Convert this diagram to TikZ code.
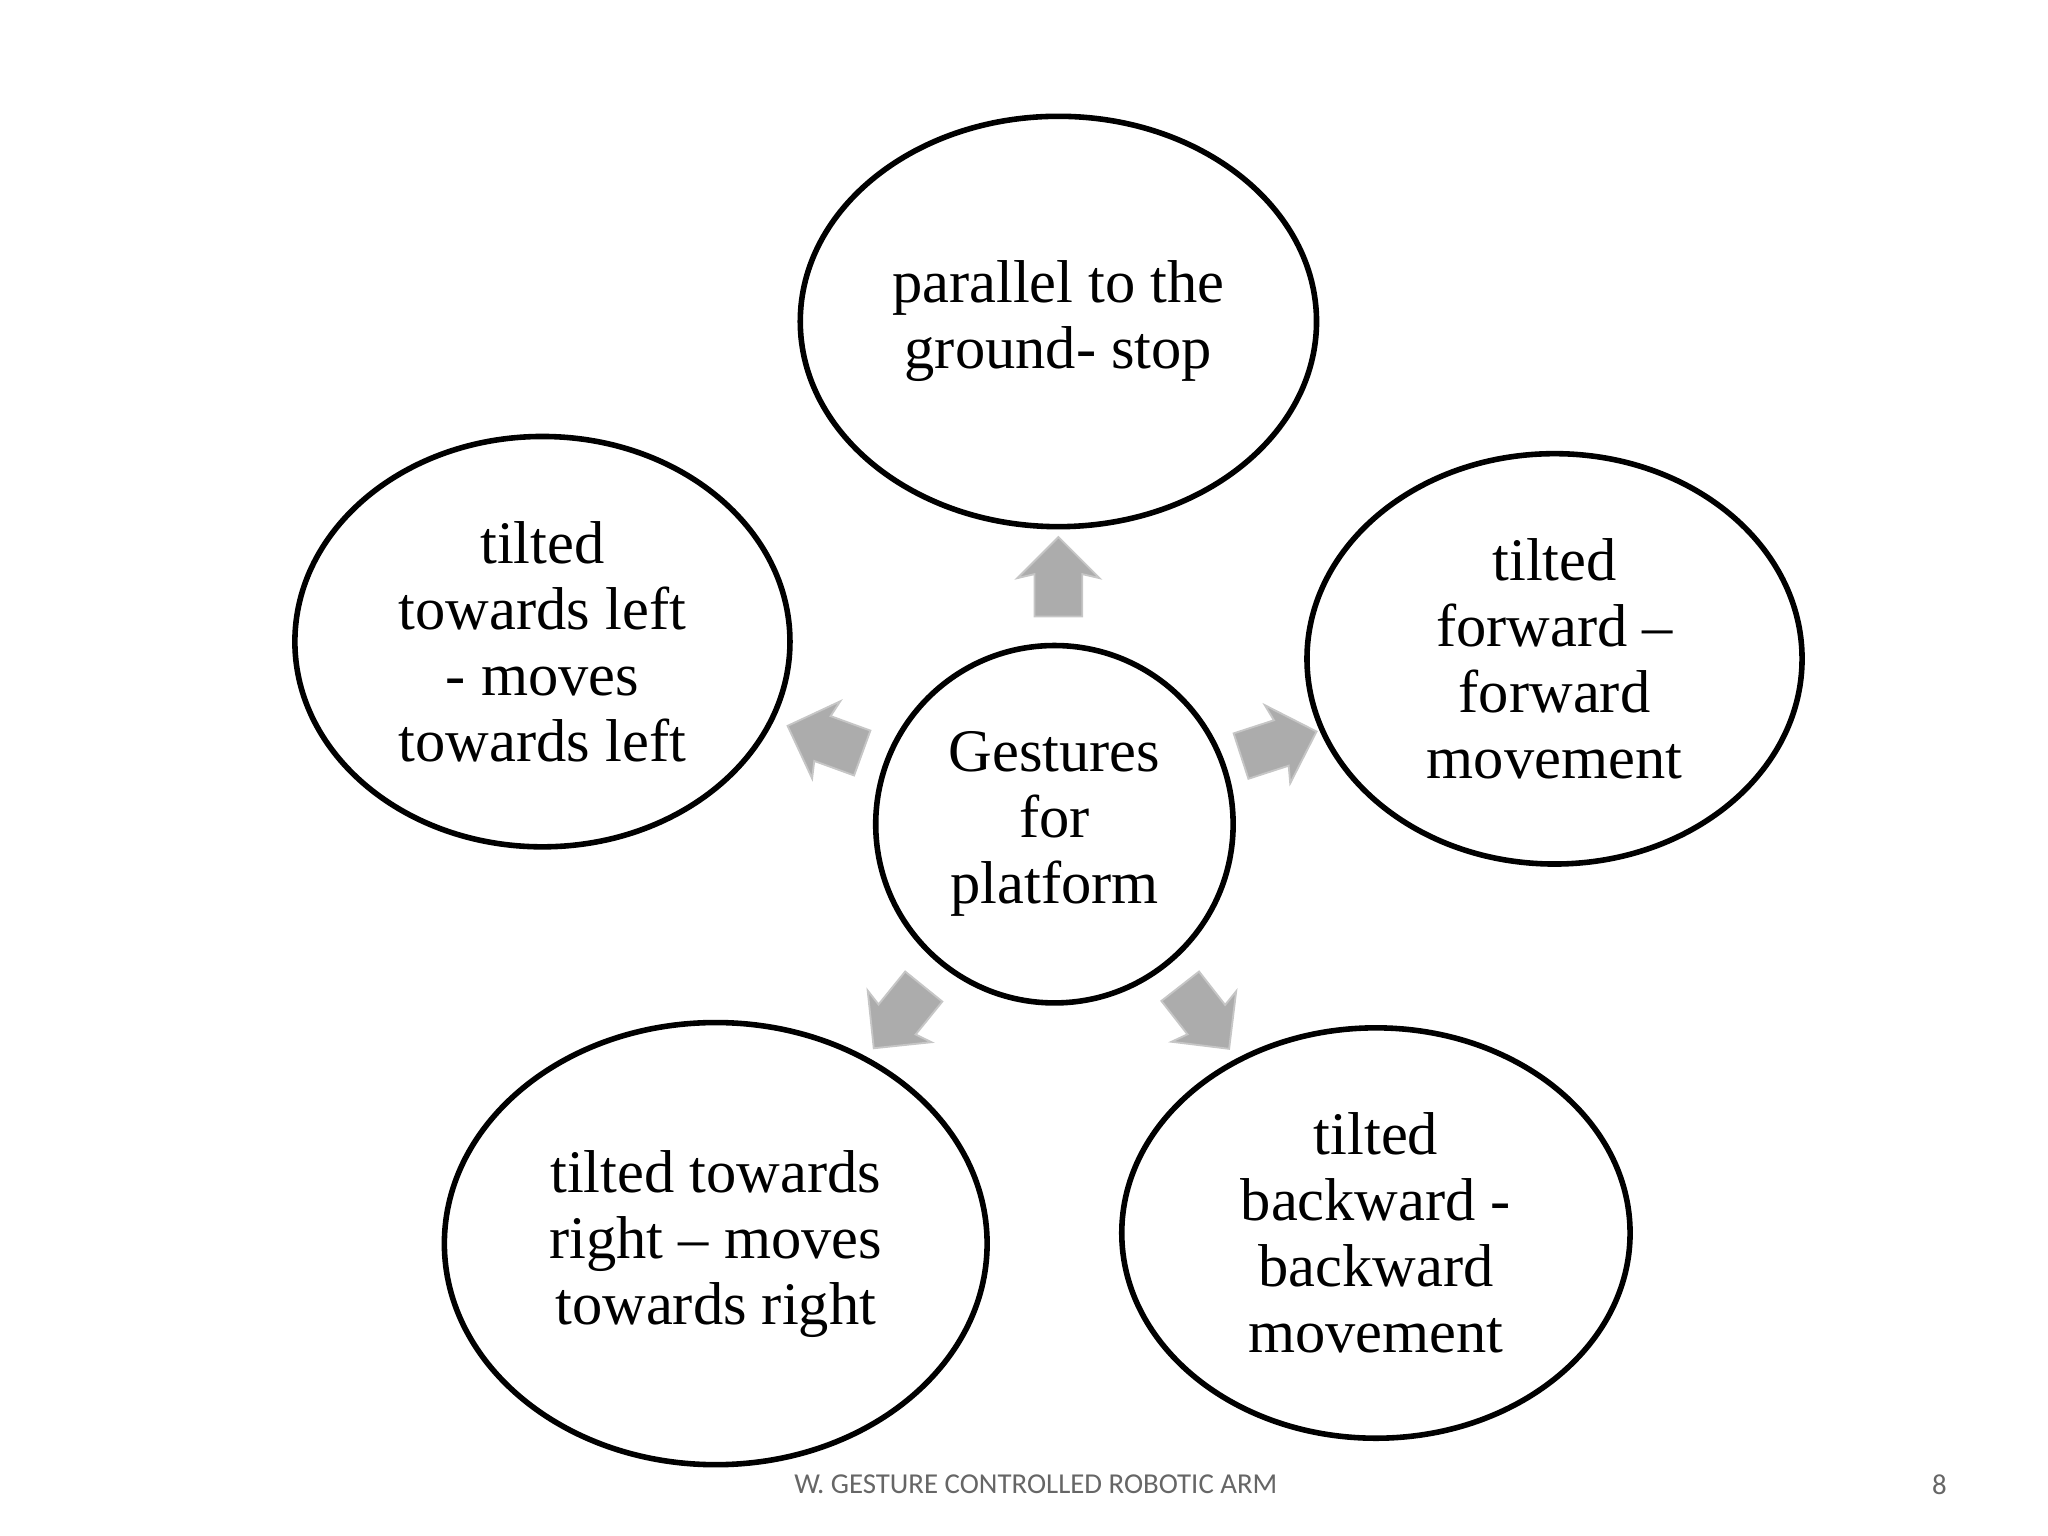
\documentclass[tikz,border=0pt]{standalone}
\usepackage{fontspec}
\setmainfont{Liberation Serif}
\newfontfamily\footfont{Carlito}
\usetikzlibrary{shapes.geometric,shapes.arrows}
\begin{document}
\begin{tikzpicture}[x=0.01cm,y=-0.01cm,
  bub/.style={ellipse,draw,line width=1.2pt,align=center,inner sep=0pt,
    font=\fontsize{13}{14.2}\selectfont},
  arr/.style={single arrow,fill=gray!65,draw=gray!45,line width=0.4pt,
    minimum height=0.6cm,minimum width=0.62cm,single arrow head extend=0.12cm,
    inner xsep=0.06cm,inner ysep=0.16cm,single arrow head indent=0.03cm}]
\useasboundingbox (0,0) rectangle (1548,1161);
\node[bub,minimum width=3.9cm,minimum height=3.1cm] (top) at (800,243) {parallel to the\\ground- stop};
\node[bub,minimum width=3.74cm,minimum height=3.1cm] (left) at (410,485) {tilted\\towards left\\- moves\\towards left};
\node[bub,minimum width=3.74cm,minimum height=3.1cm] (right) at (1175,498) {tilted\\forward --\\forward\\movement};
\node[bub,minimum width=4.1cm,minimum height=3.34cm] (bl) at (541,940) {tilted towards\\right -- moves\\towards right};
\node[bub,minimum width=3.84cm,minimum height=3.1cm] (br) at (1040,932) {tilted\\backward -\\backward\\movement};
\node[bub,minimum width=2.7cm,minimum height=2.7cm] (c) at (797,623) {Gestures\\for\\platform};
\node[arr,rotate=90] (a1) at (800,445) {};
\node[arr,rotate=160] (a2) at (632,562) {};
\node[arr,rotate=18] (a3) at (958,565) {};
\node[arr,rotate=231] (a4) at (685,762) {};
\node[arr,rotate=-52] (a5) at (905,762) {};
\node[font=\footfont\fontsize{6.2}{7}\selectfont,text=gray!80!black] (f) at (783,1122) {W. GESTURE CONTROLLED ROBOTIC ARM};
\node[font=\footfont\fontsize{6.2}{7}\selectfont,text=gray!80!black] (p) at (1466,1122) {8};
\end{tikzpicture}
\end{document}
